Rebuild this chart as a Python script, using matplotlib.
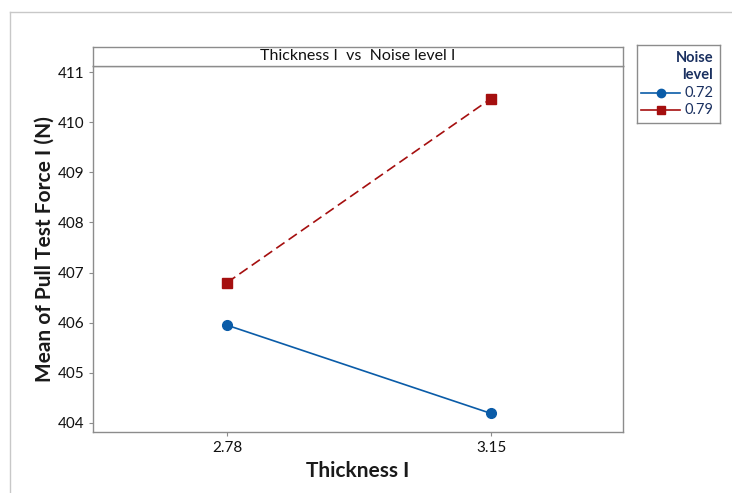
import matplotlib
matplotlib.use("Agg")
import matplotlib.pyplot as plt
from matplotlib.lines import Line2D

plt.rcParams['font.family'] = ['Lato', 'DejaVu Sans']

categories = ["2.78", "3.15"]
series_names = ["0.72", "0.79"]
values_072 = [405.95, 404.19]
values_079 = [406.80, 410.47]
yticks = [404, 405, 406, 407, 408, 409, 410, 411]

W, H = 732, 493
fig = plt.figure(figsize=(W / 100, H / 100), dpi=100)

def fx(px):
    return px / W

def fy(py):
    return 1 - py / H

# outer frame lines
fig.add_artist(Line2D([fx(10), fx(732)], [fy(12), fy(12)], color="#c8c8c8", lw=1.0))
fig.add_artist(Line2D([fx(10), fx(10)], [fy(12), fy(493)], color="#c8c8c8", lw=1.0))

ax_l, ax_r, ax_t, ax_b = 93, 623, 66, 432
ax = fig.add_axes([fx(ax_l), fy(ax_b), fx(ax_r) - fx(ax_l), fy(ax_t) - fy(ax_b)])

xpos = [1, 2]
ax.plot(xpos, values_072, color="#0a5ca8", lw=1.2, marker="o", markersize=7,
        label=series_names[0])
ax.plot(xpos, values_079, color="#a50f0f", lw=1.2, ls=(0, (6, 3)), marker="s",
        markersize=7, label=series_names[1])

ax.set_xlim(0.492, 2.5)
ax.set_ylim(403.82, 411.12)
ax.set_xticks(xpos)
ax.set_xticklabels(categories)
ax.set_yticks(yticks)
for s in ax.spines.values():
    s.set_color("#8c8c8c")
    s.set_linewidth(1.0)
ax.tick_params(axis="both", colors="#8c8c8c", labelcolor="#111111", labelsize=11,
               length=3, width=0.8)
ax.set_xlabel("Thickness I", fontsize=15, fontweight="bold", color="#1a1a1a", labelpad=4)
ax.set_ylabel("Mean of Pull Test Force I (N)", fontsize=15, fontweight="bold",
              color="#1a1a1a", labelpad=2)

# strip title
strip = fig.add_axes([fx(ax_l), fy(66), fx(ax_r) - fx(ax_l), fy(47) - fy(66)])
strip.set_xticks([])
strip.set_yticks([])
for s in strip.spines.values():
    s.set_color("#8c8c8c")
    s.set_linewidth(1.0)
strip.text(0.5, 0.5, "Thickness I  vs  Noise level I", ha="center", va="center",
           fontsize=11.5, color="#111111", transform=strip.transAxes)

# legend
leg_ax = fig.add_axes([fx(637), fy(123), fx(720) - fx(637), fy(45) - fy(123)])
leg_ax.set_xticks([])
leg_ax.set_yticks([])
leg_ax.set_xlim(0, 1)
leg_ax.set_ylim(0, 1)
for s in leg_ax.spines.values():
    s.set_color("#8c8c8c")
    s.set_linewidth(1.0)
leg_ax.text(0.92, 0.83, "Noise", ha="right", va="center", fontsize=10.5,
            fontweight="bold", color="#1a3060")
leg_ax.text(0.92, 0.62, "level", ha="right", va="center", fontsize=10.5,
            fontweight="bold", color="#1a3060")
leg_ax.plot([0.05, 0.52], [0.39, 0.39], color="#0a5ca8", lw=1.2)
leg_ax.plot([0.285], [0.39], color="#0a5ca8", marker="o", markersize=6)
leg_ax.plot([0.05, 0.52], [0.17, 0.17], color="#a50f0f", lw=1.2)
leg_ax.plot([0.285], [0.17], color="#a50f0f", marker="s", markersize=6)
leg_ax.text(0.92, 0.39, series_names[0], ha="right", va="center", fontsize=10.5,
            color="#1a3060")
leg_ax.text(0.92, 0.17, series_names[1], ha="right", va="center", fontsize=10.5,
            color="#1a3060")

fig.savefig("out.png", dpi=100)
